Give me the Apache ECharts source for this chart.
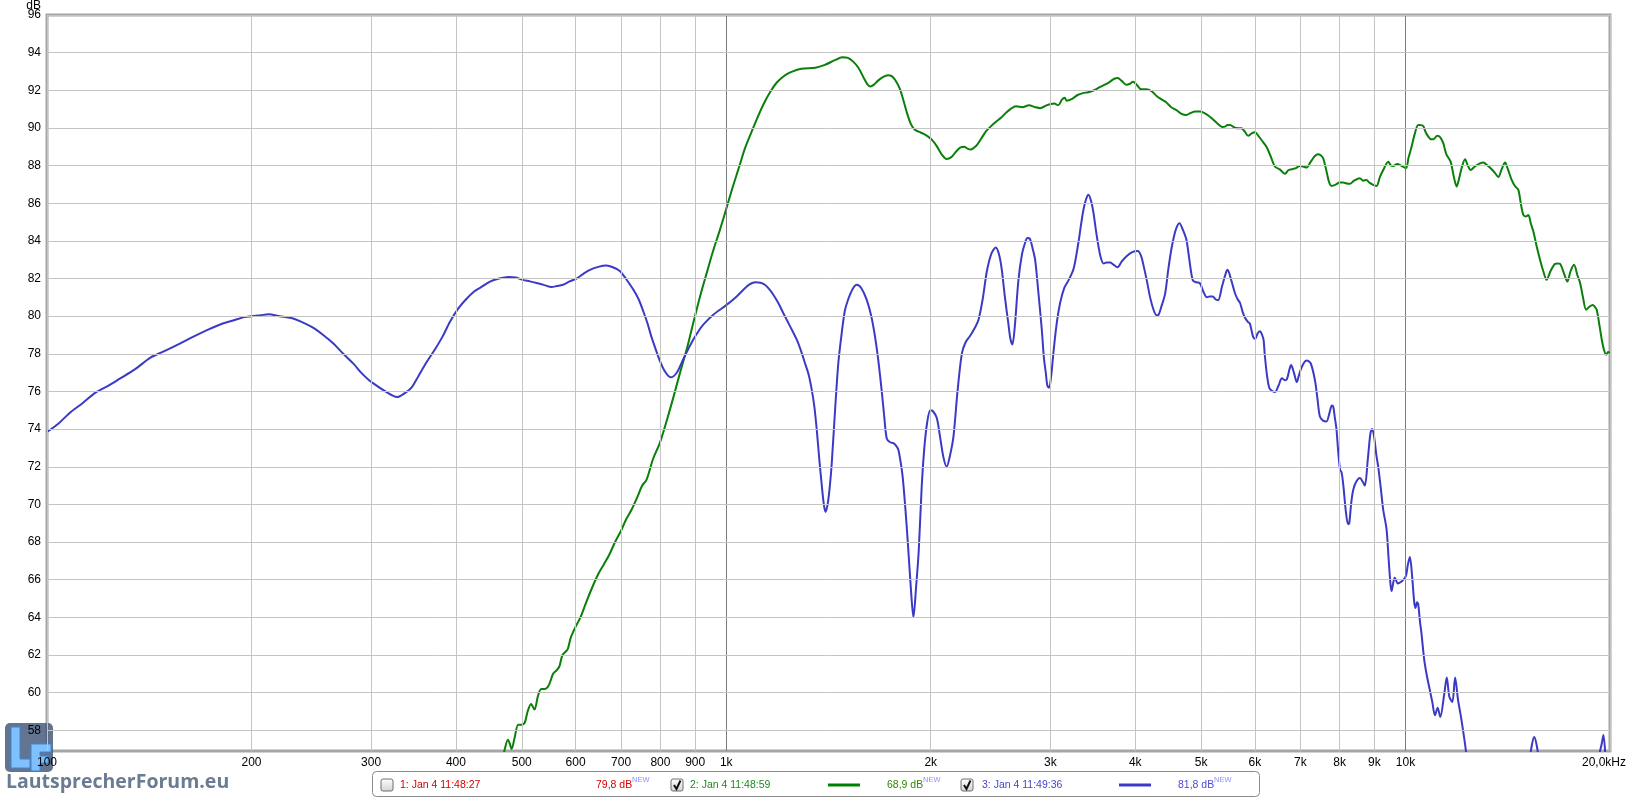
<!DOCTYPE html>
<html><head><meta charset="utf-8">
<script src="https://cdn.jsdelivr.net/npm/echarts@6/dist/echarts.min.js"></script>
<style>html,body{margin:0;padding:0;background:#fff}#c{width:1633px;height:799px}</style>
</head><body><div id="c"></div>
<script>
// ---- Axis ticks ----
const xTickValues = [100,200,300,400,500,600,700,800,900,1000,2000,3000,4000,5000,6000,7000,8000,9000,10000,20000];
const xTickLabels = ['100','200','300','400','500','600','700','800','900','1k','2k','3k','4k','5k','6k','7k','8k','9k','10k','20,0kHz'];
const yTickValues = [58,60,62,64,66,68,70,72,74,76,78,80,82,84,86,88,90,92,94,96];

// ---- Legend entries ----
const legendNames = ['1: Jan 4 11:48:27','2: Jan 4 11:48:59','3: Jan 4 11:49:36'];
const legendLevels = ['79,8 dB','68,9 dB','81,8 dB'];

// ---- Series 3 (blue): [Hz, dB] ----
const bluePoints = [[100,73.85],[104,74.3],[108,74.86],[113,75.4],[118,75.95],[123,76.3],[128,76.68],[135,77.2],[142,77.8],[148,78.1],[155,78.45],[164,78.9],[173,79.3],[181,79.6],[189,79.8],[195,79.95],[200,80.0],[206,80.05],[212,80.1],[220,80.0],[229,79.9],[237,79.7],[246,79.4],[255,79.0],[264,78.55],[273,78.0],[283,77.45],[290,77.0],[298,76.6],[306,76.3],[315,76.0],[322,75.8],[328,75.7],[336,75.9],[344,76.2],[352,76.8],[362,77.55],[372,78.2],[382,78.9],[392,79.7],[403,80.4],[414,80.9],[425,81.3],[434,81.5],[449,81.84],[463,82.0],[478,82.08],[490,82.05],[502,81.93],[514,81.85],[526,81.76],[540,81.65],[553,81.55],[563,81.6],[575,81.67],[588,81.85],[602,82.0],[616,82.25],[630,82.46],[648,82.62],[666,82.69],[681,82.6],[697,82.4],[713,81.95],[730,81.4],[743,80.9],[755,80.25],[766,79.6],[776,78.9],[788,78.2],[799,77.6],[812,77.07],[828,76.75],[845,76.98],[864,77.7],[879,78.25],[894,78.75],[910,79.2],[925,79.55],[957,80.08],[1001,80.6],[1036,81.05],[1072,81.58],[1090,81.75],[1106,81.8],[1123,81.78],[1140,81.67],[1156,81.45],[1173,81.14],[1193,80.7],[1213,80.17],[1240,79.5],[1270,78.75],[1290,78.1],[1306,77.5],[1322,76.9],[1336,76.1],[1348,75.2],[1359,73.97],[1370,72.5],[1382,71.05],[1392,70.0],[1400,69.6],[1410,70.0],[1420,70.9],[1430,72.2],[1446,75.0],[1462,77.5],[1479,79.1],[1495,80.3],[1512,80.9],[1535,81.45],[1556,81.67],[1580,81.5],[1610,80.87],[1635,80.0],[1656,78.9],[1675,77.6],[1693,76.1],[1708,74.7],[1723,73.5],[1742,73.3],[1762,73.26],[1780,73.1],[1792,72.9],[1805,72.3],[1818,71.5],[1835,69.8],[1852,67.8],[1870,65.5],[1886,64.0],[1903,65.6],[1920,67.5],[1940,71.0],[1957,73.0],[1975,74.3],[1997,75.0],[2015,74.95],[2041,74.6],[2064,73.6],[2088,72.5],[2111,72.0],[2135,72.6],[2160,73.6],[2190,76.0],[2222,78.0],[2250,78.6],[2285,78.95],[2324,79.4],[2351,79.8],[2385,80.9],[2418,82.35],[2455,83.3],[2493,83.65],[2520,83.3],[2544,82.5],[2572,81.0],[2602,79.6],[2620,78.8],[2638,78.5],[2660,79.5],[2692,81.9],[2725,83.3],[2754,83.9],[2775,84.15],[2800,84.1],[2825,83.6],[2849,83.0],[2880,81.3],[2914,79.3],[2935,77.8],[2954,77.0],[2970,76.3],[2987,76.2],[3008,76.8],[3031,78.04],[3065,79.6],[3101,80.7],[3145,81.5],[3190,81.9],[3245,82.5],[3299,83.9],[3330,84.9],[3356,85.65],[3385,86.2],[3414,86.45],[3445,86.1],[3472,85.5],[3500,84.6],[3532,83.7],[3560,83.1],[3593,82.8],[3630,82.85],[3674,82.85],[3712,82.75],[3767,82.6],[3820,82.9],[3888,83.2],[3960,83.4],[4035,83.46],[4080,83.2],[4114,82.7],[4160,81.9],[4207,81.0],[4260,80.3],[4300,80.05],[4328,80.07],[4370,80.5],[4427,81.2],[4475,82.5],[4529,83.7],[4590,84.6],[4648,84.94],[4700,84.6],[4758,84.06],[4810,82.9],[4863,81.9],[4920,81.8],[4979,81.76],[5040,81.3],[5099,81.0],[5150,81.05],[5203,81.05],[5250,80.9],[5298,80.85],[5370,81.6],[5440,82.3],[5470,82.46],[5530,82.0],[5608,81.23],[5660,80.9],[5707,80.7],[5760,80.2],[5806,79.9],[5860,79.7],[5900,79.6],[5966,78.9],[6008,78.8],[6060,79.1],[6110,79.2],[6150,79.0],[6180,78.75],[6206,77.95],[6250,76.9],[6300,76.2],[6350,76.05],[6423,75.97],[6500,76.3],[6577,76.7],[6643,76.6],[6690,76.66],[6750,77.2],[6785,77.4],[6850,77.0],[6918,76.5],[6960,76.8],[7000,77.1],[7080,77.5],[7150,77.65],[7250,77.5],[7356,76.6],[7420,75.6],[7479,74.68],[7560,74.45],[7650,74.41],[7720,74.8],[7790,75.25],[7826,75.2],[7870,74.6],[7913,74.0],[7960,72.8],[8010,71.85],[8051,71.7],[8100,71.0],[8170,69.6],[8230,68.95],[8264,69.0],[8320,70.1],[8380,70.8],[8460,71.2],[8567,71.4],[8650,71.2],[8712,71.0],[8800,72.4],[8880,73.8],[8933,74.0],[8990,73.6],[9060,72.6],[9117,72.0],[9200,70.8],[9273,69.7],[9376,68.7],[9440,67.2],[9500,65.8],[9537,65.4],[9600,65.9],[9640,66.1],[9678,66.0],[9740,65.8],[9811,65.85],[9900,65.95],[10013,66.2],[10080,66.8],[10149,67.2],[10220,66.3],[10300,64.8],[10346,64.5],[10400,64.8],[10440,64.7],[10500,63.8],[10559,63.1],[10650,61.8],[10750,60.9],[10850,60.2],[10950,59.5],[11050,58.8],[11150,59.2],[11250,58.7],[11400,59.9],[11500,60.8],[11600,59.8],[11720,59.5],[11830,60.8],[11950,59.6],[12070,58.7],[12280,56.8],[12400,54.5],[13000,51],[14000,50],[15000,51],[15250,56.5],[15470,57.65],[15700,56.5],[16000,51],[18000,50],[19000,51],[19250,56.5],[19450,57.3],[19560,57.75],[19700,56.5],[20000,52]];

// ---- Series 2 (green): [Hz, dB] ----
const greenPoints = [[469,56.5],[472,57.0],[477,57.5],[480,57.3],[483,57.0],[488,57.6],[494,58.3],[500,58.3],[505,58.4],[510,59.0],[516,59.4],[522,59.1],[528,59.8],[534,60.2],[541,60.2],[548,60.4],[556,61.0],[563,61.2],[568,61.4],[574,62.0],[584,62.3],[590,62.9],[600,63.5],[610,64.0],[622,64.8],[635,65.6],[648,66.3],[660,66.8],[672,67.3],[686,68.0],[700,68.6],[712,69.2],[725,69.7],[740,70.4],[752,71.0],[763,71.3],[780,72.4],[799,73.3],[818,74.5],[836,75.7],[855,77.0],[874,78.2],[895,79.7],[915,81.05],[936,82.3],[957,83.5],[979,84.6],[1000,85.7],[1023,86.9],[1046,88.0],[1065,88.9],[1084,89.6],[1110,90.5],[1136,91.3],[1160,91.9],[1186,92.4],[1215,92.75],[1242,92.95],[1290,93.15],[1353,93.2],[1397,93.35],[1445,93.6],[1482,93.75],[1510,93.72],[1535,93.55],[1565,93.2],[1597,92.6],[1615,92.3],[1630,92.2],[1650,92.3],[1671,92.5],[1700,92.7],[1730,92.8],[1752,92.75],[1773,92.55],[1800,92.1],[1822,91.5],[1845,90.8],[1870,90.2],[1895,89.9],[1920,89.8],[1950,89.7],[1980,89.55],[2010,89.35],[2040,89.05],[2075,88.6],[2110,88.35],[2145,88.45],[2180,88.75],[2210,88.95],[2240,89.0],[2265,88.9],[2290,88.85],[2315,88.95],[2340,89.1],[2375,89.45],[2410,89.8],[2455,90.1],[2500,90.35],[2540,90.55],[2580,90.8],[2620,91.0],[2670,91.15],[2730,91.1],[2790,91.2],[2850,91.1],[2900,91.05],[2960,91.2],[3040,91.3],[3080,91.2],[3120,91.5],[3150,91.6],[3170,91.45],[3230,91.55],[3290,91.75],[3350,91.85],[3410,91.9],[3480,92.0],[3540,92.15],[3610,92.3],[3670,92.45],[3720,92.6],[3770,92.65],[3820,92.5],[3880,92.3],[3930,92.35],[3970,92.45],[4020,92.3],[4080,92.05],[4150,92.05],[4230,91.95],[4300,91.7],[4380,91.5],[4446,91.35],[4520,91.1],[4600,90.95],[4680,90.75],[4758,90.69],[4830,90.8],[4900,90.87],[4979,90.87],[5050,90.8],[5130,90.65],[5208,90.45],[5300,90.2],[5380,90.05],[5420,90.07],[5470,90.15],[5513,90.15],[5620,90.0],[5735,89.98],[5800,89.8],[5867,89.58],[5930,89.7],[6002,89.77],[6080,89.55],[6170,89.25],[6242,89.0],[6330,88.5],[6423,87.95],[6530,87.8],[6643,87.56],[6720,87.75],[6795,87.8],[6880,87.85],[6991,87.98],[7070,87.95],[7149,87.9],[7250,88.2],[7350,88.5],[7436,88.6],[7500,88.55],[7564,88.39],[7650,87.7],[7720,87.1],[7782,86.92],[7900,87.0],[7990,87.1],[8096,87.1],[8190,87.05],[8281,87.03],[8400,87.2],[8567,87.33],[8660,87.2],[8760,87.24],[8840,87.1],[8912,87.03],[9000,86.95],[9066,86.92],[9170,87.4],[9273,87.77],[9431,88.21],[9520,88.0],[9592,87.98],[9723,88.09],[9850,88.0],[10013,87.86],[10100,88.4],[10207,89.0],[10320,89.7],[10440,90.16],[10540,90.15],[10619,90.1],[10700,89.8],[10801,89.54],[10900,89.4],[10986,89.4],[11136,89.58],[11250,89.5],[11366,89.19],[11430,88.85],[11494,88.57],[11651,88.21],[11780,87.4],[11890,86.89],[11990,87.3],[12100,87.9],[12236,88.34],[12350,88.0],[12472,87.77],[12650,87.95],[12850,88.1],[13019,88.16],[13200,88.0],[13390,87.81],[13550,87.6],[13698,87.39],[13850,87.8],[14013,88.16],[14150,87.8],[14330,87.24],[14500,86.9],[14659,86.71],[14780,86.0],[14908,85.38],[15040,85.3],[15164,85.38],[15300,84.9],[15425,84.5],[15600,83.7],[15777,83.0],[15950,82.4],[16134,81.93],[16350,82.4],[16601,82.78],[16750,82.8],[16886,82.78],[17100,82.3],[17308,81.84],[17500,82.4],[17706,82.73],[17900,82.2],[18072,81.76],[18250,81.0],[18444,80.34],[18650,80.5],[18862,80.6],[19000,80.5],[19120,80.34],[19300,79.5],[19451,78.75],[19600,78.2],[19744,77.95],[19870,78.1],[20000,78.04]];

const chart = echarts.init(document.getElementById('c'), null, {renderer: 'canvas'});
const FONT = 'Liberation Sans, Arial, sans-serif';

const vLines = xTickValues.map((v, i) => ({
  xAxis: v,
  label: {formatter: xTickLabels[i], padding: v === 20000 ? [0, 12, 0, 0] : 0},
  lineStyle: {color: (v === 1000 || v === 10000) ? '#7c7c7c' : '#c4c4c4', width: 1, type: 'solid'}
}));
const hLines = yTickValues.map(v => ({
  yAxis: v,
  label: {formatter: String(v)},
  lineStyle: {color: '#c4c4c4', width: 1, type: 'solid'}
}));

function checkbox(x, y, checked) {
  const els = [{
    type: 'rect', shape: {x: x, y: y, width: 12, height: 12, r: 2}, z: 5,
    style: {fill: new echarts.graphic.LinearGradient(0, 0, 0, 1, [{offset: 0, color: '#ffffff'}, {offset: 1, color: '#d2d2d2'}]), stroke: '#6f6f6f', lineWidth: 1}
  }];
  if (checked) els.push({
    type: 'polyline', shape: {points: [[x + 3, y + 6], [x + 5.5, y + 10], [x + 9.5, y + 1.5]]}, z: 6,
    style: {stroke: '#111', lineWidth: 2, fill: null}
  });
  return els;
}
function txt(x, y, s, color, size, extra) {
  return {type: 'text', x: x, y: y, z: 6,
    style: Object.assign({text: s, fill: color, font: size + 'px ' + FONT, verticalAlign: 'middle', align: 'left'}, extra || {})};
}

const graphics = [].concat(
  // LF logo
  [{type: 'rect', shape: {x: 5, y: 723, width: 48, height: 49, r: 5}, z: 1, style: {fill: 'rgba(72,92,124,0.85)'}},
   {type: 'polygon', shape: {points: [[11,727],[20,727],[20,759],[30,759],[30,768],[11,768]]}, z: 1, style: {fill: '#80c0ff', stroke: '#3f86d0', lineWidth: 1}},
   {type: 'polygon', shape: {points: [[31,744],[51,744],[51,752],[40,752],[40,756],[48,756],[48,763],[40,763],[40,771],[31,771]]}, z: 1, style: {fill: '#80c0ff', stroke: '#3f86d0', lineWidth: 1}},
   {type: 'text', x: 6, y: 782, z: 1, style: {text: 'LautsprecherForum.eu', fill: '#6a7c92', font: 'bold 19.5px "Open Sans", sans-serif', verticalAlign: 'middle'}},
   txt(41, 6, 'dB', '#000', 12, {align: 'right'})],
  // legend box
  [{type: 'rect', shape: {x: 372.5, y: 771.5, width: 887, height: 25, r: 4}, z: 4, style: {fill: '#fff', stroke: '#8a8a8a', lineWidth: 1}}],
  checkbox(381, 779, false),
  [txt(400, 785, legendNames[0], '#d40000', 10.5), txt(596, 785, legendLevels[0], '#d40000', 10.5), txt(632, 780, 'NEW', '#8f8fff', 7.5)],
  checkbox(671, 779, true),
  [txt(690, 785, legendNames[1], '#1d8a1d', 10.5),
   {type: 'line', shape: {x1: 828, y1: 785, x2: 860, y2: 785}, z: 6, style: {stroke: '#008000', lineWidth: 3}},
   txt(887, 785, legendLevels[1], '#2c8a00', 10.5), txt(923, 780, 'NEW', '#8f8fff', 7.5)],
  checkbox(961, 779, true),
  [txt(982, 785, legendNames[2], '#4444cc', 10.5),
   {type: 'line', shape: {x1: 1119, y1: 785, x2: 1151, y2: 785}, z: 6, style: {stroke: '#3a3ac6', lineWidth: 3}},
   txt(1178, 785, legendLevels[2], '#4a4ad4', 10.5), txt(1214, 780, 'NEW', '#8f8fff', 7.5)]
);

chart.setOption({
  animation: false,
  backgroundColor: '#fff',
  grid: {left: 47, right: 23, top: 15, bottom: 48, show: true, borderColor: '#a6a6a6', borderWidth: 3, backgroundColor: '#fff'},
  xAxis: {type: 'log', logBase: 10, min: 100, max: 20000, axisLine: {show: false}, axisTick: {show: false}, axisLabel: {show: false}, splitLine: {show: false}},
  yAxis: {type: 'value', min: 56.9, max: 96, axisLine: {show: false}, axisTick: {show: false}, axisLabel: {show: false}, splitLine: {show: false}},
  graphic: {elements: graphics},
  series: [
    {type: 'line', z: 2, data: [], silent: true, showSymbol: false,
     markLine: {silent: true, symbol: ['none', 'none'], animation: false,
       label: {show: true, position: 'start', distance: 6, color: '#000', fontSize: 12, fontFamily: FONT},
       emphasis: {disabled: true},
       data: vLines.concat(hLines)}},
    {name: legendNames[1], type: 'line', z: 3, data: greenPoints, showSymbol: false, smooth: 0.3, clip: true,
     lineStyle: {color: '#0a7f0a', width: 2}, itemStyle: {color: '#0a7f0a'}},
    {name: legendNames[2], type: 'line', z: 3, data: bluePoints, showSymbol: false, smooth: 0.3, clip: true,
     lineStyle: {color: '#3a3ac6', width: 2}, itemStyle: {color: '#3a3ac6'}}
  ]
});
</script></body></html>
